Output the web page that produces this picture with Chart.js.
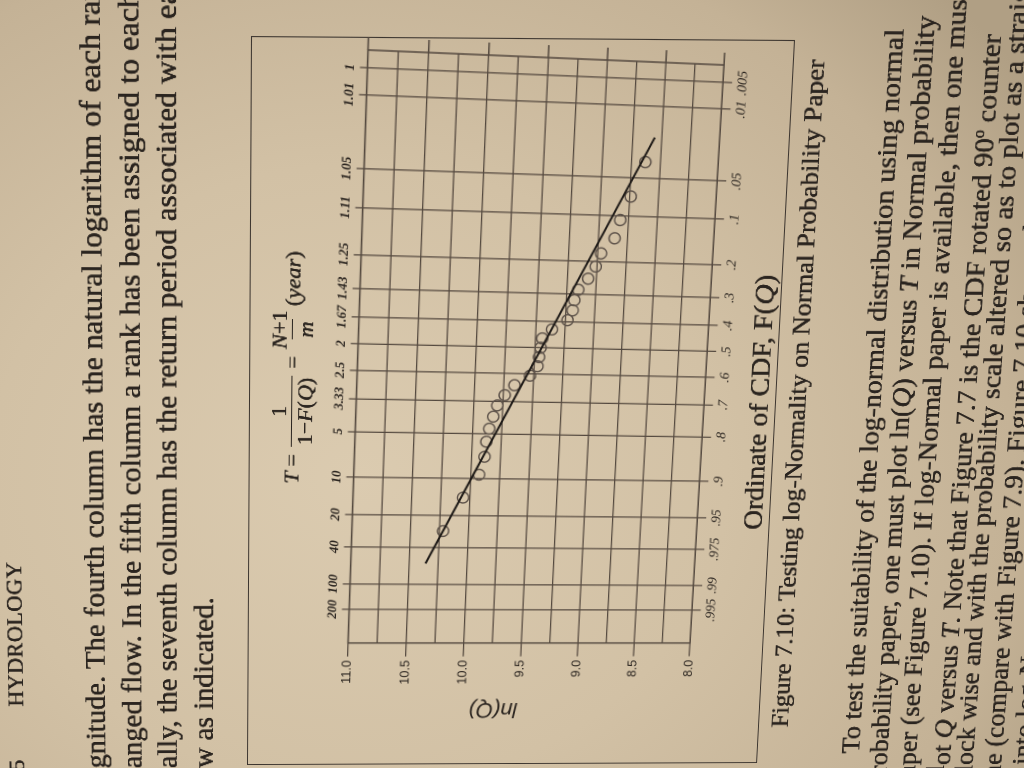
<!DOCTYPE html>
<html>
<head>
<meta charset="utf-8">
<script src="https://cdn.jsdelivr.net/npm/chart.js@4.4.1/dist/chart.umd.min.js"></script>
<style>
  html, body { margin: 0; padding: 0; width: 1024px; height: 768px; overflow: hidden; }
  body {
    background: radial-gradient(ellipse 80% 90% at 35% 62%, #dbcbb0 0%, #d2c1a5 45%, #c4b296 80%, #b09f84 100%);
    font-family: "Liberation Serif", serif;
    color: #2a241f;
  }
  #page, #plot { position: absolute; left: 0; top: 0; transform-origin: 0 0; }
  #page { width: 1400px; height: 1300px; text-shadow: 0 0 0.6px #2a241f, 0 0 0.6px #2a241f; }
  .frame { position: absolute; left: 300px; top: 400px; width: 727px; height: 528px; box-sizing: border-box; border: 1.5px solid #3b342e; }
  .ln { position: absolute; white-space: nowrap; }
  .pre { position: absolute; right: 100%; }
  .left { font-size: 30px; line-height: 37px; }
  .right { font-size: 28px; line-height: 30px; }
  #formula { position: absolute; left: 592px; top: 417px; display: flex; align-items: center; font-size: 22px; white-space: nowrap; }
  #formula .op { margin: 0 5px; }
  .frac { display: inline-flex; flex-direction: column; align-items: center; margin: 0 2px; line-height: 25px; }
  .frac .den { border-top: 1.3px solid #2a241f; padding: 0 2px; }
</style>
</head>
<body>
<div id="page">
  <div class="ln" style="left:295px; top:150px; font-size:23px; line-height:30px;">5<span style="margin-left:56px; letter-spacing:0.5px;">HYDROLOGY</span></div>

  <div class="ln left" style="left:297px; top:226px;"><span class="pre">ma</span>gnitude. The fourth column has the natural logarithm of each ranked</div>
  <div class="ln left" style="left:297px; top:263px;"><span class="pre">arr</span>anged flow. In the fifth column a rank has been assigned to each flow</div>
  <div class="ln left" style="left:297px; top:299px;"><span class="pre">Fin</span>ally, the seventh column has the return period associated with each</div>
  <div class="ln left" style="left:297px; top:336px;"><span class="pre">flo</span>w as indicated.</div>

  <div class="frame"></div>

  <div id="formula">
    <i>T</i><span class="op">=</span>
    <span class="frac"><span>1</span><span class="den">1&minus;<i>F</i>(<i>Q</i>)</span></span>
    <span class="op">=</span>
    <span class="frac"><span><i>N</i>+1</span><span class="den"><i>m</i></span></span>
    <span style="margin-left:2px;">(<i>year</i>)</span>
  </div>

  <div class="ln" style="left:545px; top:896px; font-size:28px; line-height:30px;">Ordinate of CDF, F(<i>Q</i>)</div>
  <div class="ln" style="left:338px; top:936px; font-size:26px; line-height:28px;">Figure 7.10: Testing log-Normality on Normal Probability Paper</div>

  <div class="ln right" style="left:310px; top:1010px;">To test the suitability of the log-normal distribution using normal</div>
  <div class="ln right" style="left:297px; top:1040px;"><span class="pre">pr</span>obability paper, one must plot ln(<i>Q</i>) versus <i>T</i> in Normal probability</div>
  <div class="ln right" style="left:297px; top:1070px;"><span class="pre">pa</span>per (see Figure 7.10). If log-Normal paper is available, then one must</div>
  <div class="ln right" style="left:297px; top:1100px;"><span class="pre">pl</span>ot <i>Q</i> versus <i>T</i>. Note that Figure 7.7 is the CDF rotated 90<sup style="font-size:16px;">o</sup> counter</div>
  <div class="ln right" style="left:297px; top:1130px;"><span class="pre">cl</span>ock wise and with the probability scale altered so as to plot as a straight</div>
  <div class="ln right" style="left:297px; top:1160px;"><span class="pre">lin</span>e (compare with Figure 7.9). Figure 7.10 shows the flows plotted</div>
  <div class="ln right" style="left:297px; top:1190px;">into log-Normal probability paper.</div>
</div>

<div id="plot"><canvas id="chart" width="700" height="405"></canvas></div>

<script>
// probability paper ticks (horizontal lines in the photo)
const probTicks = [0.995, 0.99, 0.975, 0.95, 0.9, 0.8, 0.7, 0.6, 0.5, 0.4, 0.3, 0.2, 0.1, 0.05, 0.01, 0.005];
const probLabels = ['.995', '.99', '.975', '.95', '.9', '.8', '.7', '.6', '.5', '.4', '.3', '.2', '.1', '.05', '.01', '.005'];
const periodLabels = ['200', '100', '40', '20', '10', '5', '3.33', '2.5', '2', '1.67', '1.43', '1.25', '1.11', '1.05', '1.01', '1'];

// ranked annual flows: F(Q) and ln(Q)
const cdfF = [0.964, 0.929, 0.893, 0.857, 0.821, 0.786, 0.750, 0.714, 0.679, 0.643, 0.607, 0.571, 0.536, 0.500,
              0.464, 0.429, 0.393, 0.357, 0.321, 0.286, 0.250, 0.214, 0.179, 0.143, 0.107, 0.071, 0.036];
const lnQ = [10.22, 10.06, 9.93, 9.89, 9.88, 9.86, 9.83, 9.80, 9.74, 9.66, 9.53, 9.47, 9.46, 9.45,
             9.44, 9.36, 9.23, 9.19, 9.18, 9.15, 9.07, 9.01, 8.97, 8.86, 8.82, 8.74, 8.63];

// hand drawn straight line
const fitF = [0.983, 0.021];
const fitLnQ = [10.36, 8.56];

const lnQMin = 8, lnQMax = 11, lnQStep = 0.25;

const gridColor = '#54493f';
const textColor = '#2a241f';

// inverse normal CDF (Acklam)
function normInv(p) {
  const a = [-3.969683028665376e+01, 2.209460984245205e+02, -2.759285104469687e+02, 1.383577518672690e+02, -3.066479806614716e+01, 2.506628277459239e+00];
  const b = [-5.447609879822406e+01, 1.615858368580409e+02, -1.556989798598866e+02, 6.680131188771972e+01, -1.328068155288572e+01];
  const c = [-7.784894002430293e-03, -3.223964580411365e-01, -2.400758277161838e+00, -2.549732539343734e+00, 4.374664141464968e+00, 2.938163982698783e+00];
  const d = [7.784695709041462e-03, 3.224671290700398e-01, 2.445134137142996e+00, 3.754408661907416e+00];
  if (p < 0.02425) {
    const q = Math.sqrt(-2 * Math.log(p));
    return (((((c[0]*q + c[1])*q + c[2])*q + c[3])*q + c[4])*q + c[5]) / ((((d[0]*q + d[1])*q + d[2])*q + d[3])*q + 1);
  }
  if (p > 1 - 0.02425) return -normInv(1 - p);
  const q = p - 0.5, r = q * q;
  return (((((a[0]*r + a[1])*r + a[2])*r + a[3])*r + a[4])*r + a[5])*q / (((((b[0]*r + b[1])*r + b[2])*r + b[3])*r + b[4])*r + 1);
}

function probIndex(v) {
  return probTicks.findIndex(p => Math.abs(normInv(p) - v) < 1e-9);
}
function isMajor(v) {
  return Math.abs(v * 2 - Math.round(v * 2)) < 1e-6;
}
function probTicksBuild(scale) {
  scale.ticks = probTicks.map(p => ({ value: normInv(p) })).sort((u, w) => u.value - w.value);
}

const zAxis = {
  type: 'linear',
  min: -2.74,
  max: 2.91,
  reverse: true,
  afterBuildTicks: probTicksBuild,
  border: { display: false }
};

const paperPlugin = {
  id: 'paper',
  afterDraw(chart) {
    const { ctx, chartArea: a, scales: { y } } = chart;
    ctx.save();
    ctx.strokeStyle = gridColor;
    ctx.lineWidth = 1.5;
    ctx.strokeRect(a.left, a.top, a.right - a.left, a.bottom - a.top);
    // the half unit ln(Q) lines run a bit past the edge
    y.ticks.forEach(t => {
      if (!isMajor(t.value)) return;
      const py = y.getPixelForValue(t.value);
      ctx.beginPath();
      ctx.moveTo(a.right, py);
      ctx.lineTo(a.right + 12, py);
      ctx.stroke();
    });
    ctx.translate(y.left - 22, y.getPixelForValue(9.72));
    ctx.rotate(-Math.PI / 2);
    ctx.font = 'italic 22px "Liberation Sans"';
    ctx.fillStyle = textColor;
    ctx.textAlign = 'center';
    ctx.textBaseline = 'middle';
    ctx.fillText('ln(Q)', 0, 0);
    ctx.restore();
  }
};

const chart = new Chart(document.getElementById('chart'), {
  data: {
    datasets: [
      {
        type: 'line',
        data: fitF.map((f, i) => ({ x: normInv(f), y: fitLnQ[i] })),
        borderColor: '#1e1a17',
        borderWidth: 2,
        pointRadius: 0
      },
      {
        type: 'scatter',
        data: cdfF.map((f, i) => ({ x: normInv(f), y: lnQ[i] })),
        pointStyle: 'circle',
        pointRadius: 5.5,
        borderColor: '#5e534a',
        borderWidth: 1.4,
        backgroundColor: 'rgba(0,0,0,0)'
      }
    ]
  },
  options: {
    responsive: false,
    animation: false,
    devicePixelRatio: 2,
    layout: { padding: { left: 48, right: 16, top: 4, bottom: 4 } },
    plugins: { legend: { display: false }, tooltip: { enabled: false } },
    scales: {
      x: Object.assign({}, zAxis, {
        position: 'bottom',
        grid: { color: gridColor, lineWidth: 1.25, tickLength: 9, tickColor: gridColor },
        ticks: {
          autoSkip: false, maxRotation: 0, minRotation: 0, padding: 2, color: textColor,
          font: { family: 'Liberation Serif', style: 'italic', size: 14 },
          callback: v => probLabels[probIndex(v)]
        }
      }),
      x2: Object.assign({}, zAxis, {
        position: 'top',
        grid: { drawOnChartArea: false, tickLength: 7, color: gridColor, lineWidth: 1.25 },
        ticks: {
          autoSkip: false, maxRotation: 0, minRotation: 0, padding: 1, color: textColor,
          font: { family: 'Liberation Serif', style: 'italic', weight: 'bold', size: 13 },
          callback: v => periodLabels[probIndex(v)]
        }
      }),
      y: {
        type: 'linear',
        min: lnQMin,
        max: lnQMax,
        border: { display: false },
        grid: {
          color: gridColor, lineWidth: 1.25, tickLength: 14,
          tickColor: c => (isMajor(c.tick.value) ? gridColor : 'rgba(0,0,0,0)')
        },
        ticks: {
          stepSize: lnQStep, padding: 4, color: textColor,
          font: { family: 'Liberation Sans', size: 13 },
          callback: v => (isMajor(v) ? v.toFixed(1) : '')
        }
      }
    }
  },
  plugins: [paperPlugin]
});

// the photo shows the page turned and in perspective: map corners with a homography
function solve(A, b) {
  const n = b.length;
  const M = A.map((row, i) => row.concat([b[i]]));
  for (let c = 0; c < n; c++) {
    let p = c;
    for (let r = c + 1; r < n; r++) if (Math.abs(M[r][c]) > Math.abs(M[p][c])) p = r;
    [M[c], M[p]] = [M[p], M[c]];
    for (let r = 0; r < n; r++) {
      if (r === c) continue;
      const f = M[r][c] / M[c][c];
      for (let k = c; k <= n; k++) M[r][k] -= f * M[c][k];
    }
  }
  return M.map((row, i) => row[n] / row[i]);
}

function warp(el, src, dst) {
  const A = [], b = [];
  for (let i = 0; i < 4; i++) {
    const [x, y] = src[i], [u, v] = dst[i];
    A.push([x, y, 1, 0, 0, 0, -u * x, -u * y]); b.push(u);
    A.push([0, 0, 0, x, y, 1, -v * x, -v * y]); b.push(v);
  }
  const h = solve(A, b);
  el.style.transform = `matrix3d(${h[0]},${h[3]},0,${h[6]},${h[1]},${h[4]},0,${h[7]},0,0,1,0,${h[2]},${h[5]},0,1)`;
}

// page: frame corners
warp(document.getElementById('page'),
  [[300, 400], [1027, 400], [300, 928], [1027, 928]],
  [[247, 765], [251, 36], [757, 763], [795, 40]]);

// plot: grid corners
const ca = chart.chartArea;
warp(document.getElementById('plot'),
  [[ca.left, ca.top], [ca.right, ca.top], [ca.left, ca.bottom], [ca.right, ca.bottom]],
  [[348, 643], [368, 50], [690, 643], [724, 65]]);
</script>
</body>
</html>
